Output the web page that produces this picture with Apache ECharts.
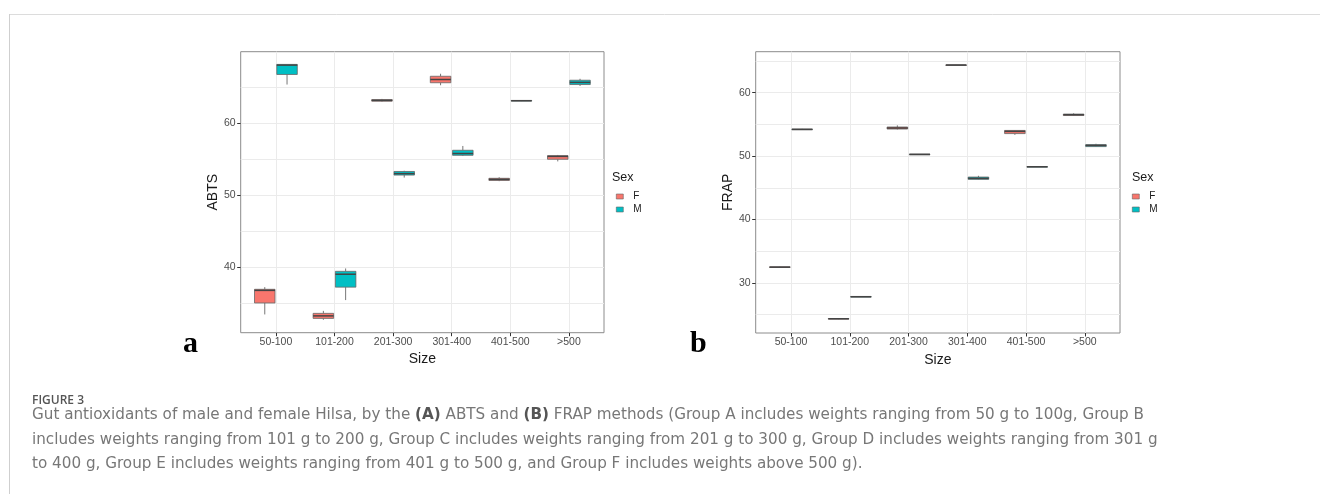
<!DOCTYPE html>
<html>
<head>
<meta charset="utf-8">
<script src="https://cdn.jsdelivr.net/npm/echarts@6/dist/echarts.min.js"></script>
<style>
html,body{margin:0;padding:0;background:#fff;}
#c{width:1320px;height:494px;}
</style>
</head>
<body>
<div id="c"></div>
<script>
// ---- data ----
const categories = ['50-100', '101-200', '201-300', '301-400', '401-500', '>500'];
const sexes = ['F', 'M'];
const yTicksA = [40, 50, 60];
const yTicksB = [30, 40, 50, 60];
// each entry: [min, q1, median, q3, max]
const abtsF = [[33.4, 35.0, 36.75, 36.9, 37.2], [32.65, 32.85, 33.2, 33.55, 33.9], [63.0, 63.08, 63.2, 63.3, 63.4], [65.3, 65.65, 66.1, 66.55, 66.9], [51.95, 52.05, 52.2, 52.35, 52.5], [54.7, 55.0, 55.4, 55.5, 55.6]];
const abtsM = [[65.4, 66.8, 68.1, 68.2, 68.2], [35.4, 37.2, 39.0, 39.4, 39.8], [52.45, 52.8, 53.0, 53.3, 53.4], [55.45, 55.55, 55.8, 56.25, 56.85], [63.1, 63.12, 63.15, 63.18, 63.2], [65.2, 65.4, 65.7, 66.0, 66.2]];
const frapF = [[32.4, 32.45, 32.5, 32.55, 32.6], [24.3, 24.33, 24.37, 24.4, 24.45], [54.2, 54.27, 54.43, 54.59, 54.85], [64.3, 64.33, 64.36, 64.38, 64.4], [53.35, 53.55, 53.9, 54.05, 54.1], [56.35, 56.4, 56.53, 56.62, 56.75]];
const frapM = [[54.15, 54.2, 54.22, 54.25, 54.3], [27.8, 27.82, 27.84, 27.87, 27.9], [50.25, 50.27, 50.28, 50.3, 50.32], [46.3, 46.34, 46.5, 46.7, 46.9], [48.3, 48.32, 48.33, 48.35, 48.37], [51.45, 51.5, 51.7, 51.8, 51.95]];

const captionHead = 'FIGURE 3';
const captionLines = [
  'Gut antioxidants of male and female Hilsa, by the {b|(A)} ABTS and {b|(B)} FRAP methods (Group A includes weights ranging from 50 g to 100g, Group B',
  'includes weights ranging from 101 g to 200 g, Group C includes weights ranging from 201 g to 300 g, Group D includes weights ranging from 301 g',
  'to 400 g, Group E includes weights ranging from 401 g to 500 g, and Group F includes weights above 500 g).'
];

// ---- styling ----
const COLORS = {F: '#F8766D', M: '#00BFC4'};
const OFFSETS = {F: -0.19, M: 0.19};
const BOX_W = 0.35;
const RANGE_A = [30.86, 69.97];
const RANGE_B = [22.12, 66.46];

function toItems(arr) {
  return arr.map((d, i) => [i].concat(d));
}

function boxRenderer(sex) {
  return function (params, api) {
    const cat = api.value(0);
    const pMin = api.coord([cat, api.value(1)]);
    const pQ1 = api.coord([cat, api.value(2)]);
    const pMed = api.coord([cat, api.value(3)]);
    const pQ3 = api.coord([cat, api.value(4)]);
    const pMax = api.coord([cat, api.value(5)]);
    const band = api.size([1, 0])[0];
    const cx = pMin[0] + OFFSETS[sex] * band;
    const w = BOX_W * band;
    const h = Math.max(pQ1[1] - pQ3[1], 0.6);
    return {
      type: 'group',
      children: [
        {type: 'line', shape: {x1: cx, y1: pMax[1], x2: cx, y2: pQ3[1]}, style: {stroke: '#777', lineWidth: 1}},
        {type: 'line', shape: {x1: cx, y1: pQ1[1], x2: cx, y2: pMin[1]}, style: {stroke: '#777', lineWidth: 1}},
        {type: 'rect', shape: {x: cx - w / 2, y: pQ3[1], width: w, height: h}, style: {fill: COLORS[sex], stroke: '#666', lineWidth: 0.8}},
        {type: 'line', shape: {x1: cx - w / 2, y1: pMed[1], x2: cx + w / 2, y2: pMed[1]}, style: {stroke: '#444', lineWidth: 1.5}}
      ]
    };
  };
}

function mkSeries(name, xi, yi, arr) {
  return {
    type: 'custom', name: name, xAxisIndex: xi, yAxisIndex: yi,
    itemStyle: {color: COLORS[name]},
    encode: {x: 0, y: [1, 2, 3, 4, 5]},
    renderItem: boxRenderer(name),
    data: toItems(arr),
    silent: true
  };
}

const FONT = 'Liberation Sans, Arial, sans-serif';
const CAPFONT = 'DejaVu Sans, sans-serif';

// outer y: gridlines only (major + minor every 5)
function outerY(gi, range) {
  return {
    gridIndex: gi, type: 'value', min: range[0], max: range[1], splitNumber: 8,
    axisLine: {show: false}, axisTick: {show: false}, axisLabel: {show: false},
    splitLine: {show: true, showMinLine: false, showMaxLine: false, lineStyle: {color: '#ebebeb', width: 1}}
  };
}
// inner y: labels, ticks and title, shifted onto the panel edge
function innerY(gi, range, ticks, name, off) {
  return {
    gridIndex: gi, type: 'value', min: range[0], max: range[1], offset: off,
    axisLine: {show: false},
    axisTick: {show: true, customValues: ticks, length: 3.5, lineStyle: {color: '#333', width: 1}},
    axisLabel: {customValues: ticks, fontSize: 10.5, color: '#4d4d4d', margin: 5, fontFamily: FONT},
    splitLine: {show: false},
    name: name, nameLocation: 'middle', nameGap: 15, nameRotate: 90,
    nameTextStyle: {fontSize: 14, color: '#1a1a1a', fontFamily: FONT}
  };
}
function outerX(gi) {
  return {gridIndex: gi, type: 'value', min: 0, max: 1, show: false, splitLine: {show: false}};
}
function innerX(gi) {
  return {
    gridIndex: gi, type: 'category', data: categories, boundaryGap: false,
    axisLine: {show: false},
    axisTick: {show: true, length: 3.5, lineStyle: {color: '#333', width: 1}},
    axisLabel: {fontSize: 10.5, color: '#4d4d4d', margin: 4, fontFamily: FONT, interval: 0},
    splitLine: {show: true, lineStyle: {color: '#ebebeb', width: 1}},
    name: 'Size', nameLocation: 'middle', nameGap: 12,
    nameTextStyle: {fontSize: 14, color: '#1a1a1a', fontFamily: FONT}
  };
}

const capTitles = captionLines.map((t, i) => ({
  text: t, left: 32, top: 405.5 + i * 24.5, padding: 0,
  textStyle: {
    fontSize: 15.2, fontWeight: 'normal', color: '#777', fontFamily: CAPFONT, lineHeight: 20,
    rich: {b: {fontSize: 15.2, fontWeight: 'bold', color: '#555', fontFamily: CAPFONT, lineHeight: 20}}
  }
}));

const legendCommon = {
  orient: 'vertical', data: sexes, padding: 0, itemWidth: 7, itemHeight: 5, itemGap: 1,
  icon: 'rect', itemStyle: {borderColor: '#666', borderWidth: 0.6},
  textStyle: {fontSize: 10, color: '#1a1a1a', fontFamily: FONT, lineHeight: 12, padding: [0, 0, 0, 5]},
  selectedMode: false
};

const option = {
  animation: false,
  backgroundColor: '#fff',
  title: [
    {text: 'Sex', left: 612, top: 170, padding: 0, textStyle: {fontSize: 12.5, fontWeight: 'normal', color: '#1a1a1a', fontFamily: FONT, lineHeight: 15}},
    {text: 'Sex', left: 1132, top: 170, padding: 0, textStyle: {fontSize: 12.5, fontWeight: 'normal', color: '#1a1a1a', fontFamily: FONT, lineHeight: 15}},
    {text: 'a', left: 183, top: 329, padding: 0, textStyle: {fontSize: 30, fontWeight: 'bold', color: '#000', fontFamily: 'Liberation Serif, serif', lineHeight: 30}},
    {text: 'b', left: 690, top: 329, padding: 0, textStyle: {fontSize: 30, fontWeight: 'bold', color: '#000', fontFamily: 'Liberation Serif, serif', lineHeight: 30}},
    {text: captionHead, left: 32, top: 393, padding: 0, textStyle: {fontSize: 12, fontWeight: 600, color: '#555', fontFamily: 'Open Sans, sans-serif', lineHeight: 16}}
  ].concat(capTitles),
  legend: [
    Object.assign({left: 616, top: 190.5}, legendCommon),
    Object.assign({left: 1132, top: 190.5}, legendCommon)
  ],
  grid: [
    {left: 240.7, top: 51.7, width: 363.3, height: 281, show: true, borderColor: '#8c8c8c', borderWidth: 1, backgroundColor: 'transparent', containLabel: false},
    {left: 275.9, top: 51.7, width: 293.0, height: 281, show: false, containLabel: false},
    {left: 755.7, top: 51.7, width: 364.3, height: 281.3, show: true, borderColor: '#8c8c8c', borderWidth: 1, backgroundColor: 'transparent', containLabel: false},
    {left: 791.0, top: 51.7, width: 293.8, height: 281.3, show: false, containLabel: false}
  ],
  xAxis: [outerX(0), innerX(1), outerX(2), innerX(3)],
  yAxis: [
    outerY(0, RANGE_A), innerY(1, RANGE_A, yTicksA, 'ABTS', 275.9 - 240.7),
    outerY(2, RANGE_B), innerY(3, RANGE_B, yTicksB, 'FRAP', 791.0 - 755.7)
  ],
  series: [
    mkSeries('F', 1, 1, abtsF),
    mkSeries('M', 1, 1, abtsM),
    mkSeries('F', 3, 3, frapF),
    mkSeries('M', 3, 3, frapM)
  ],
  graphic: [
    {type: 'line', shape: {x1: 9, y1: 14.5, x2: 1320, y2: 14.5}, style: {stroke: '#dcdcdc', lineWidth: 1}, silent: true},
    {type: 'line', shape: {x1: 9.5, y1: 14, x2: 9.5, y2: 494}, style: {stroke: '#cfcfcf', lineWidth: 1}, silent: true}
  ]
};

const chart = echarts.init(document.getElementById('c'), null, {renderer: 'canvas', width: 1320, height: 494});
chart.setOption(option);
</script>
</body>
</html>
